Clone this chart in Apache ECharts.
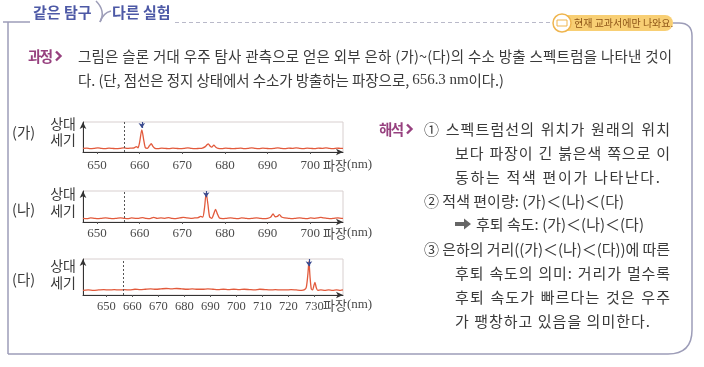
<!DOCTYPE html>
<html><head><meta charset="utf-8">
<script src="https://cdn.jsdelivr.net/npm/echarts@6/dist/echarts.min.js"></script>
<style>html,body{margin:0;padding:0;background:#fff}#c{width:704px;height:367px}</style>
</head><body><div id="c"></div>
<script>
// ---------- data ----------
const panelNames = ['(가)', '(나)', '(다)'];
const restWavelength = 656.3;
const ticksShort = [650, 660, 670, 680, 690, 700];
const ticksLong = [650, 660, 670, 680, 690, 700, 710, 720, 730];
const peakGa = 660.5, peakNa = 675.6, peakDa = 727.9;

const spectrumGa = [[646.7,12],[647.6,13],[648.4,11],[649.3,12],[650.2,14],[651.0,12],[651.9,11],[652.8,13],[653.6,12],[654.5,11],[655.4,12],[656.3,14],[657.1,12],[658.0,13],[658.7,14],[659.2,18],[659.6,14],[660.0,34],[660.5,74],[660.9,44],[661.3,15],[661.8,12],[662.3,21],[662.7,28],[663.1,19],[663.6,12],[664.3,11],[665.2,13],[666.0,12],[666.9,11],[667.8,13],[668.6,12],[669.5,11],[670.4,12],[671.3,14],[672.1,12],[673.0,11],[673.9,12],[674.7,13],[675.4,18],[675.8,24],[676.1,27],[676.5,20],[676.9,16],[677.4,23],[677.8,17],[678.4,12],[679.3,11],[680.2,13],[681.0,12],[681.9,11],[682.8,12],[683.7,13],[684.5,11],[685.4,12],[686.3,14],[687.1,12],[688.0,11],[688.9,13],[689.7,12],[690.6,11],[691.5,12],[692.4,14],[693.2,12],[694.1,11],[695.0,13],[695.8,12],[696.7,14],[697.6,12],[698.4,11],[699.3,13],[700.2,12],[701.1,11],[701.9,13],[702.8,12],[703.7,14],[704.5,12],[705.4,11],[706.3,13],[707.1,12],[707.7,12]];

const spectrumNa = [[646.7,12],[647.6,11],[648.5,13],[649.3,12],[650.2,11],[651.1,12],[652.0,13],[652.8,12],[653.7,11],[654.6,12],[655.5,13],[656.3,12],[657.2,11],[658.1,13],[659.0,12],[659.8,12],[660.7,14],[661.5,12],[662.4,11],[663.3,15],[664.1,12],[665.0,13],[665.9,12],[666.8,14],[667.6,12],[668.5,11],[669.4,13],[670.2,15],[671.1,13],[672.0,12],[672.9,13],[673.7,14],[674.3,18],[674.8,16],[675.2,45],[675.6,93],[676.0,58],[676.4,17],[676.9,12],[677.4,27],[677.8,41],[678.2,27],[678.7,13],[679.5,11],[680.4,12],[681.3,13],[682.1,12],[683.0,11],[683.9,13],[684.8,12],[685.6,11],[686.5,12],[687.4,13],[688.2,12],[689.1,11],[690.0,12],[690.7,15],[691.3,26],[691.8,17],[692.3,18],[692.8,24],[693.3,16],[694.0,13],[694.9,12],[695.7,11],[696.6,12],[697.5,13],[698.3,12],[699.2,11],[700.1,13],[701.0,12],[701.8,13],[702.5,15],[703.1,13],[703.9,12],[704.8,11],[705.6,12],[706.5,13],[707.3,12],[707.7,12]];

const spectrumDa = [[641,13],[643,14],[645,13],[647,14],[649,15],[651,14],[653,15],[655,14],[657,15],[659,14],[661,16],[663,15],[665,16],[667,17],[669,16],[671,17],[673,18],[675,17],[677,18],[679,17],[681,16],[683,17],[685,16],[687,16],[689,17],[691,16],[693,15],[695,16],[697,15],[699,16],[701,15],[703,16],[705,15],[707,14],[709,16],[711,15],[713,14],[715,15],[717,14],[719,14],[721,15],[723,14],[725,13],[726.2,15],[726.9,22],[727.5,58],[727.9,93],[728.3,52],[728.8,17],[729.3,14],[729.8,26],[730.2,35],[730.7,21],[731.3,13],[732.5,14],[734,13],[735.5,14],[737,13],[738.5,14],[740,13],[741,14]];

const tabTexts = ['같은 탐구', '다른 실험'];
const badgeText = '현재 교과서에만 나와요.';
const procLabel = '과정';
const procLine1 = '그림은 슬론 거대 우주 탐사 관측으로 얻은 외부 은하 (가)~(다)의 수소 방출 스펙트럼을 나타낸 것이';
const procLine2a = '다. (단, 점선은 정지 상태에서 수소가 방출하는 파장으로, ';
const procLine2b = '656.3 nm';
const procLine2c = '이다.)';
const interpLabel = '해석';
const interpLines = [
  {t: '① 스펙트럼선의 위치가 원래의 위치', ind: 0, end: 670, sw: 2},
  {t: '보다 파장이 긴 붉은색 쪽으로 이', ind: 1, end: 670, sw: 2},
  {t: '동하는 적색 편이가 나타난다.', ind: 1, end: 660, sw: 1},
  {t: '② 적색 편이량: (가)＜(나)＜(다)', ind: 0, end: 624, sw: 1},
  {t: '후퇴 속도: (가)＜(나)＜(다)', ind: 2, end: 644, sw: 1},
  {t: '③ 은하의 거리((가)＜(나)＜(다))에 따른', ind: 0, end: 670, sw: 2},
  {t: '후퇴 속도의 의미: 거리가 멀수록', ind: 1, end: 670, sw: 2},
  {t: '후퇴 속도가 빠르다는 것은 우주', ind: 1, end: 670, sw: 2},
  {t: '가 팽창하고 있음을 의미한다.', ind: 1, end: 650, sw: 1}
];

// ---------- layout / style ----------
const KR = "'Noto Sans CJK KR'";
const SERIF = "'Liberation Serif'";
const textColor = '#3a3a3a';
const accent = '#97417f';
const tabBlue = '#4d59a6';
const borderC = '#9d9db8';
const specColor = '#e25a3c';

const chart = echarts.init(document.getElementById('c'), null, {renderer: 'canvas'});
const mctx = document.createElement('canvas').getContext('2d');

// lay text out character by character so that a line spans [x0, x1] like the printed page
function fitRuns(runs, x0, x1, y, color, spaceW) {
  const items = [];
  runs.forEach(r => {
    mctx.font = r.font;
    Array.from(r.t).forEach(ch => items.push({ch, font: r.font, w: mctx.measureText(ch).width}));
  });
  const W = items.reduce((a, b) => a + b.w, 0);
  let tw = 0;
  items.forEach((it, i) => { it.k = i < items.length - 1 ? (it.ch === ' ' ? (spaceW || 3) : 1) : 0; tw += it.k; });
  const extra = x1 == null ? 0 : (x1 - x0 - W) / Math.max(tw, 1);
  let x = x0;
  const out = [];
  items.forEach(it => {
    if (it.ch !== ' ') out.push({type: 'text', silent: true, x: x, y: y,
      style: {text: it.ch, font: it.font, fill: color, verticalAlign: 'middle'}});
    x += it.w + extra * it.k;
  });
  return out;
}

const grids = [
  {top: 122, height: 30},
  {top: 191, height: 31},
  {top: 259, height: 36}
];
const xr = [[646.7, 707.7], [646.7, 707.7], [641, 741]];
const tickSets = [ticksShort, ticksShort, ticksLong];
const specs = [spectrumGa, spectrumNa, spectrumDa];
const peaks = [peakGa, peakNa, peakDa];

const option = {
  animation: false,
  backgroundColor: '#fff',
  grid: grids.map(g => ({left: 83, width: 260, top: g.top, height: g.height, show: true,
    borderColor: '#d8cfcf', borderWidth: 1, backgroundColor: '#fff'})),
  xAxis: grids.map((g, i) => ({
    type: 'value', gridIndex: i, min: xr[i][0], max: xr[i][1],
    axisLine: {show: true, onZero: false, symbol: ['none', 'arrow'], symbolSize: [5, 7],
      lineStyle: {color: '#333', width: 1}},
    axisTick: {show: true, length: 2, customValues: tickSets[i], lineStyle: {color: '#555'}},
    axisLabel: {customValues: tickSets[i], fontFamily: SERIF, fontSize: i === 2 ? 12.5 : 13,
      color: '#4a4a4a', margin: i === 0 ? 7 : 5},
    splitLine: {show: false}
  })),
  yAxis: grids.map((g, i) => ({
    type: 'value', gridIndex: i, min: 0, max: 100,
    axisLine: {show: true, symbol: ['none', 'arrow'], symbolSize: [5, 7],
      lineStyle: {color: '#333', width: 1}},
    axisTick: {show: false}, axisLabel: {show: false}, splitLine: {show: false}
  })),
  series: specs.map((d, i) => ({
    type: 'line', xAxisIndex: i, yAxisIndex: i, data: d, showSymbol: false,
    smooth: 0.25, lineStyle: {color: specColor, width: 1.3},
    markLine: {
      silent: true, symbol: 'none', label: {show: false},
      data: [
        {xAxis: restWavelength, lineStyle: {type: [2, 2], color: '#555', width: 1}},
        [{coord: [peaks[i], 100], symbol: 'none', lineStyle: {color: '#3a4a8e', width: 1.2, type: 'solid'}},
         {coord: [peaks[i], 80], symbol: 'arrow', symbolSize: 5}]
      ]
    }
  })),
  graphic: []
};

const G = option.graphic;
function ln(x1, y1, x2, y2, style) {
  G.push({type: 'line', silent: true, shape: {x1, y1, x2, y2}, style: Object.assign({stroke: borderC, lineWidth: 1.5}, style || {})});
}
function bz(x1, y1, cx, cy, x2, y2) {
  G.push({type: 'bezierCurve', silent: true, shape: {x1, y1, x2, y2, cpx1: cx, cpy1: cy}, style: {stroke: borderC, lineWidth: 1.5, fill: null}});
}
function push(arr) { arr.forEach(e => G.push(e)); }
// frame border
ln(3, 22, 30, 22);
bz(96, 1, 106, 11, 100, 22);
bz(100, 22, 103, 13, 111, 11);
ln(8, 22, 8, 354);
ln(8, 354, 668, 354);
bz(668, 354, 692, 354, 692, 330);
ln(692, 330, 692, 36);
bz(692, 36, 692, 23, 679, 23);
ln(679, 23, 673, 23);
ln(175, 22.5, 552, 22.5, {stroke: '#b9b9c9', lineWidth: 1, lineDash: [4, 3]});
// badge
G.push({type: 'rect', silent: true, shape: {x: 553, y: 15, width: 120, height: 16, r: 8}, style: {fill: '#f8cf74'}});
G.push({type: 'circle', silent: true, shape: {cx: 562, cy: 23, r: 9}, style: {fill: '#fff', stroke: '#efb54e', lineWidth: 1.5}});
G.push({type: 'rect', silent: true, shape: {x: 557, y: 20, width: 10, height: 6}, style: {fill: '#fff', stroke: '#efb54e', lineWidth: 1}});
push(fitRuns([{t: badgeText, font: "10px " + KR}], 574, null, 23.5, '#8d5416', 1));
// tabs
push(fitRuns([{t: tabTexts[0], font: "bold 15px " + KR}], 33, null, 12, tabBlue, 1));
push(fitRuns([{t: tabTexts[1], font: "bold 15px " + KR}], 112, null, 12, tabBlue, 1));
// 과정
push(fitRuns([{t: procLabel, font: "bold 14.5px " + KR}], 28, 53, 56, accent));
G.push({type: 'polyline', silent: true, shape: {points: [[56, 51.5], [60.5, 56], [56, 60.5]]}, style: {stroke: accent, lineWidth: 2.4, fill: null}});
push(fitRuns([{t: procLine1, font: "14.5px " + KR}], 78, 672, 56, textColor, 3));
push(fitRuns([{t: procLine2a, font: "14.5px " + KR}, {t: procLine2b, font: "15px " + SERIF}, {t: procLine2c, font: "14.5px " + KR}], 78, 504, 80, textColor, 3));
// 해석
push(fitRuns([{t: interpLabel, font: "bold 14.5px " + KR}], 379, 404, 129, accent));
G.push({type: 'polyline', silent: true, shape: {points: [[407, 124.5], [411.5, 129], [407, 133.5]]}, style: {stroke: accent, lineWidth: 2.4, fill: null}});
const rowY = [129, 153, 177, 201, 224, 249, 273, 297, 321];
const indX = [424, 455, 476];
interpLines.forEach((l, i) => {
  push(fitRuns([{t: l.t, font: "15px " + KR}], indX[l.ind], l.end, rowY[i], textColor, l.sw));
});
// arrow before 후퇴 속도
G.push({type: 'polygon', silent: true, shape: {points: [[455, 222], [464, 222], [464, 218.5], [471, 224], [464, 229.5], [464, 226], [455, 226]]}, style: {fill: '#666'}});
// panel labels
const nameRowY = [[132, 124, 140], [209, 194, 211], [279, 266, 283]];
grids.forEach((g, i) => {
  G.push({type: 'text', silent: true, x: 12, y: nameRowY[i][0], style: {text: panelNames[i], font: "14.5px " + KR, fill: textColor, verticalAlign: 'middle'}});
  G.push({type: 'text', silent: true, x: 76, y: nameRowY[i][1], style: {text: '상대', font: "14px " + KR, fill: textColor, verticalAlign: 'middle', align: 'right'}});
  G.push({type: 'text', silent: true, x: 76, y: nameRowY[i][2], style: {text: '세기', font: "14px " + KR, fill: textColor, verticalAlign: 'middle', align: 'right'}});
});
const nameY = [165, 233, 305];
nameY.forEach(y => {
  G.push({type: 'text', silent: true, x: 323, y: y, style: {
    text: '{a|파장}{b|(nm)}', verticalAlign: 'middle',
    rich: {a: {font: "13px " + KR, fill: '#4a4a4a'}, b: {font: "13px " + SERIF, fill: '#4a4a4a'}}}});
});

chart.setOption(option);
</script>
</body></html>
